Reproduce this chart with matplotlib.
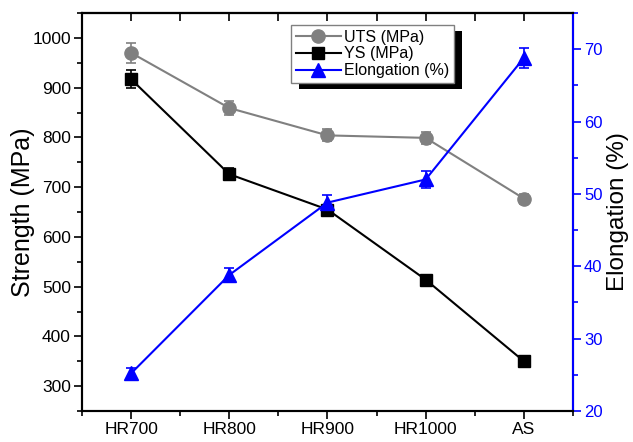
import numpy as np
import matplotlib
matplotlib.use('Agg')
import matplotlib.pyplot as plt
from matplotlib.patches import Rectangle
from matplotlib.ticker import MultipleLocator

plt.rcParams['font.family'] = ['Liberation Sans', 'DejaVu Sans']

# Data
samples = ['HR700', 'HR800', 'HR900', 'HR1000', 'AS']
uts = [970, 859, 804, 799, 677]
uts_err = [20, 15, 12, 12, 10]
ys = [917, 726, 655, 514, 350]
ys_err = [18, 12, 10, 6, 5]
elong = [25.2, 38.8, 48.8, 52.0, 68.8]
elong_err = [0.8, 0.9, 1.0, 1.2, 1.4]

x = np.arange(len(samples))

fig = plt.figure(figsize=(6.33, 4.42), dpi=100)
ax = fig.add_axes([0.1295, 0.0701, 0.7757, 0.9005])
ax2 = ax.twinx()

u = ax.errorbar(x, uts, yerr=uts_err, color='#808080', marker='o', markersize=9.5,
                lw=1.5, capsize=3.5, capthick=1.2, elinewidth=1.2, label='UTS (MPa)')
y = ax.errorbar(x, ys, yerr=ys_err, color='black', marker='s', markersize=8.5,
                lw=1.5, capsize=3.5, capthick=1.2, elinewidth=1.2, label='YS (MPa)')
e = ax2.errorbar(x, elong, yerr=elong_err, color='#0000ff', marker='^', markersize=10,
                 lw=1.5, capsize=3.5, capthick=1.2, elinewidth=1.2, label='Elongation (%)')

ax.set_xlim(-0.5, 4.5)
ax.set_ylim(250, 1050)
ax2.set_ylim(20, 75)

ax.set_xticks(x)
ax.set_xticklabels(samples)
ax.xaxis.set_minor_locator(MultipleLocator(0.5))
ax.yaxis.set_minor_locator(MultipleLocator(50))
ax.set_yticks([300, 400, 500, 600, 700, 800, 900, 1000])
ax2.yaxis.set_major_locator(MultipleLocator(10))
ax2.yaxis.set_minor_locator(MultipleLocator(5))

ax.tick_params(axis='both', which='major', direction='out', length=6, width=1.2,
               labelsize=12.5, top=False, pad=2)
ax.tick_params(axis='both', which='minor', direction='out', length=3.5, width=1.2)
ax2.tick_params(axis='y', which='major', direction='out', length=6, width=1.2,
                labelsize=12, colors='#0000ff', pad=2)
ax2.tick_params(axis='y', which='minor', direction='out', length=3.5, width=1.2,
                colors='#0000ff')

# inward ticks along the top edge every half step
sec = ax.secondary_xaxis('top')
sec.set_xticks(np.arange(-0.5, 4.51, 0.5))
sec.tick_params(axis='x', direction='in', length=6, width=1.2, labeltop=False)
sec.spines['top'].set_linewidth(1.5)

for sp in ax.spines.values():
    sp.set_linewidth(1.5)
for sp in ax2.spines.values():
    sp.set_linewidth(1.5)
ax2.spines['right'].set_color('#0000ff')

ax.set_ylabel('Strength (MPa)', fontsize=18)
ax.yaxis.set_label_coords(-0.096, 0.5)
ax2.set_ylabel('Elongation (%)', fontsize=17.5, rotation=90)
ax2.yaxis.set_label_coords(1.07, 0.5)

leg = ax2.legend([u[0], y[0], e[0]], ['UTS (MPa)', 'YS (MPa)', 'Elongation (%)'],
                 loc='upper left', bbox_to_anchor=(0.46, 0.944),
                 bbox_transform=fig.transFigure, fontsize=11.5, frameon=True,
                 fancybox=False, edgecolor='#808080', framealpha=1,
                 handlelength=2.8, handletextpad=0.2, labelspacing=0.12,
                 borderpad=0.3, borderaxespad=0)
leg.get_frame().set_linewidth(1.0)

# black drop shadow behind the legend box
fig.canvas.draw()
bb = leg.get_window_extent()
shadow = Rectangle((bb.x0 + 8, bb.y0 - 6), bb.width, bb.height,
                   transform=None, facecolor='black', edgecolor='none', zorder=4)
ax2.add_artist(shadow)
leg.set_zorder(5)

fig.savefig('out.png', dpi=100)
